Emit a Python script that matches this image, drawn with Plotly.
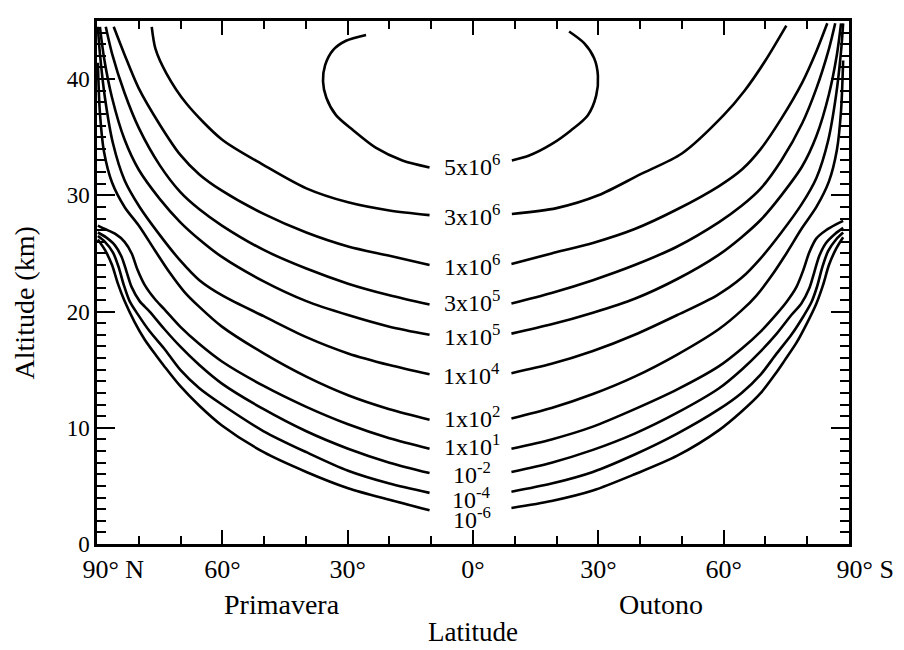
import plotly.graph_objects as go

# ---------------- data (latitude: negative = North, positive = South; altitude km) ----------------
contour_labels = ["5x10<sup>6</sup>", "3x10<sup>6</sup>", "1x10<sup>6</sup>", "3x10<sup>5</sup>",
                  "1x10<sup>5</sup>", "1x10<sup>4</sup>", "1x10<sup>2</sup>", "1x10<sup>1</sup>",
                  "10<sup>-2</sup>", "10<sup>-4</sup>", "10<sup>-6</sup>"]
label_alt = [32.6, 28.3, 24.0, 20.9, 18.0, 14.6, 10.9, 8.5, 6.1, 4.0, 2.2]
label_lat = -0.3

# 5x10^6 (closed loop, open at the top)
c5e6_left_lat = [-25.6, -30.4, -33.5, -35.4, -35.9, -35.1, -32.8, -28.7, -23.3, -16.9, -10.4]
c5e6_left_alt = [43.8, 43.3, 42.5, 41.2, 39.8, 38.4, 36.9, 35.6, 34.1, 33.0, 32.4]
c5e6_right_lat = [9.3, 13.3, 18.8, 23.5, 27.5, 29.5, 29.9, 29.0, 26.6, 23.0]
c5e6_right_alt = [33.0, 33.4, 34.4, 35.6, 36.9, 38.6, 40.3, 41.8, 43.1, 44.1]

# 3x10^6
c3e6_left_lat = [-76.9, -76.0, -73.4, -68.6, -60.1, -50.1, -39.9, -29.9, -20.0, -10.4]
c3e6_left_alt = [44.5, 42.6, 40.5, 37.9, 34.8, 32.6, 30.6, 29.4, 28.7, 28.3]
c3e6_right_lat = [9.3, 20.0, 30.0, 40.0, 50.0, 60.0, 65.0, 70.0, 75.0]
c3e6_right_alt = [28.4, 28.9, 30.0, 31.8, 33.6, 36.9, 39.0, 41.6, 44.6]

# 1x10^6
c1e6_left_lat = [-86.0, -83.4, -80.0, -75.0, -70.1, -65.5, -60.1, -50.1, -39.9, -29.9, -20.0, -10.4]
c1e6_left_alt = [44.5, 42.1, 39.2, 36.1, 33.5, 31.8, 30.4, 28.4, 26.8, 25.6, 24.8, 24.0]
c1e6_right_lat = [9.2, 18.8, 28.7, 38.7, 48.9, 58.9, 64.3, 68.9, 73.8, 78.8, 82.2, 84.8]
c1e6_right_alt = [24.1, 25.0, 25.9, 27.1, 28.8, 30.8, 32.2, 34.0, 36.6, 39.7, 42.4, 44.8]

# 3x10^5
c3e5_left_lat = [-87.9, -86.4, -83.4, -80.0, -75.0, -70.1, -65.5, -60.1, -50.1, -39.9, -29.9, -20.0, -10.4]
c3e5_left_alt = [44.5, 42.2, 38.8, 35.8, 32.6, 30.3, 28.8, 27.4, 25.3, 23.7, 22.4, 21.4, 20.6]
c3e5_right_lat = [9.2, 18.8, 28.7, 38.7, 48.9, 58.9, 64.3, 68.9, 73.8, 78.8, 82.2, 85.2, 86.7]
c3e5_right_alt = [20.7, 21.6, 22.7, 24.0, 25.6, 27.7, 29.1, 30.6, 33.0, 36.2, 39.2, 42.6, 44.8]

# 1x10^5
c1e5_left_lat = [-89.3, -88.3, -86.4, -83.4, -80.0, -75.0, -70.1, -65.5, -60.1, -50.1, -39.9, -29.9, -20.0, -10.4]
c1e5_left_alt = [44.5, 41.8, 38.4, 34.8, 32.2, 29.7, 27.7, 26.2, 24.7, 22.6, 20.9, 19.7, 18.7, 18.0]
c1e5_right_lat = [9.2, 18.8, 28.7, 38.7, 48.9, 58.9, 64.3, 68.9, 73.8, 78.8, 82.2, 85.2, 87.1, 88.1]
c1e5_right_alt = [18.1, 18.9, 19.9, 21.1, 22.8, 24.9, 26.4, 27.9, 30.0, 32.5, 35.1, 38.7, 42.1, 44.8]

# 1x10^4
c1e4_left_lat = [-89.8, -89.3, -88.1, -86.2, -83.4, -79.8, -75.0, -70.1, -65.5, -59.6, -50.1, -39.9, -29.9, -20.0, -10.4]
c1e4_left_alt = [44.5, 42.2, 38.4, 34.5, 31.3, 29.0, 26.6, 24.4, 22.7, 21.3, 19.6, 17.8, 16.4, 15.4, 14.6]
c1e4_right_lat = [9.2, 18.8, 28.7, 38.7, 48.9, 58.4, 64.3, 68.9, 73.8, 78.6, 82.2, 85.0, 86.9, 88.1, 88.6]
c1e4_right_alt = [14.7, 15.5, 16.6, 18.0, 19.7, 21.4, 22.9, 24.6, 26.8, 29.2, 31.5, 34.7, 38.6, 42.4, 44.8]

# 1x10^2
c1e2_left_lat = [-89.8, -89.3, -88.3, -86.4, -83.4, -79.8, -76.2, -72.7, -69.1, -65.5, -60.1, -50.1, -39.9, -29.9, -20.0, -10.4]
c1e2_left_alt = [41.4, 37.1, 33.7, 31.1, 29.0, 27.3, 25.3, 23.4, 21.7, 20.4, 18.7, 16.4, 14.4, 12.8, 11.6, 10.7]
c1e2_right_lat = [9.2, 18.8, 28.7, 38.7, 48.9, 58.9, 64.3, 67.9, 71.5, 75.0, 78.6, 82.2, 85.2, 87.1, 88.1, 88.6]
c1e2_right_alt = [10.8, 11.7, 12.9, 14.4, 16.3, 18.5, 20.1, 21.4, 23.1, 25.0, 27.1, 29.0, 31.2, 33.9, 37.3, 41.6]

# 1x10^1
c1e1_left_lat = [-89.8, -88.1, -85.7, -83.4, -81.7, -80.3, -78.6, -76.2, -73.9, -70.1, -65.5, -60.1, -50.1, -39.9, -29.9, -20.0, -10.4]
c1e1_left_alt = [27.4, 27.1, 26.7, 26.0, 25.0, 23.6, 22.3, 21.1, 20.2, 18.7, 17.2, 15.7, 13.6, 11.8, 10.3, 9.1, 8.2]
c1e1_right_lat = [9.2, 18.8, 28.7, 38.7, 48.9, 58.9, 64.3, 68.9, 72.7, 75.0, 77.4, 79.1, 80.5, 82.2, 84.5, 86.9, 88.6]
c1e1_right_alt = [8.2, 9.0, 10.1, 11.6, 13.3, 15.3, 16.8, 18.3, 19.8, 20.8, 22.1, 23.6, 25.1, 26.3, 27.0, 27.5, 27.8]

# 10^-2
cm2_left_lat = [-89.8, -87.9, -85.7, -84.1, -82.9, -81.7, -79.8, -77.4, -73.9, -70.1, -65.5, -60.1, -50.1, -39.9, -29.9, -20.0, -10.4]
cm2_left_alt = [26.8, 26.4, 25.7, 24.7, 23.4, 22.1, 20.9, 20.0, 18.5, 17.0, 15.4, 13.8, 11.6, 9.7, 8.2, 7.0, 6.1]
cm2_right_lat = [9.2, 18.8, 28.7, 38.7, 48.9, 58.9, 64.3, 68.9, 72.7, 76.2, 78.6, 80.5, 81.7, 82.9, 84.5, 86.7, 88.6]
cm2_right_alt = [6.2, 7.0, 8.1, 9.5, 11.3, 13.4, 15.0, 16.6, 18.1, 19.7, 20.7, 22.0, 23.4, 24.8, 25.9, 26.7, 27.2]

# 10^-4
cm4_left_lat = [-89.8, -88.1, -86.2, -84.8, -83.6, -82.2, -80.3, -77.4, -73.9, -70.1, -65.5, -60.1, -50.1, -39.9, -29.9, -20.0, -10.4]
cm4_left_alt = [26.5, 26.0, 25.1, 23.8, 22.3, 20.9, 19.8, 18.3, 16.8, 15.0, 13.4, 12.0, 9.7, 7.9, 6.3, 5.2, 4.4]
cm4_right_lat = [9.2, 18.8, 28.7, 38.7, 48.9, 58.9, 64.3, 68.9, 72.7, 76.2, 79.1, 81.0, 82.4, 83.6, 85.0, 86.9, 88.6]
cm4_right_alt = [4.5, 5.2, 6.2, 7.7, 9.5, 11.6, 13.0, 14.6, 16.4, 18.0, 19.6, 20.8, 22.2, 23.8, 25.2, 26.2, 26.8]

# 10^-6
cm6_left_lat = [-89.8, -88.1, -86.4, -85.0, -83.4, -81.0, -78.6, -75.8, -73.9, -70.1, -65.5, -60.1, -50.1, -39.9, -29.9, -20.0, -10.4]
cm6_left_alt = [26.2, 25.3, 24.0, 22.4, 20.9, 19.1, 17.6, 16.2, 15.3, 13.6, 11.9, 10.2, 7.9, 6.2, 4.8, 3.8, 2.9]
cm6_right_lat = [9.2, 18.8, 28.7, 38.7, 48.9, 58.9, 64.3, 68.9, 72.7, 74.6, 77.4, 79.8, 82.2, 83.8, 85.2, 86.9, 88.6]
cm6_right_alt = [3.1, 3.7, 4.6, 6.0, 7.6, 9.8, 11.4, 13.0, 14.8, 15.8, 17.3, 18.9, 20.7, 22.3, 24.0, 25.4, 26.4]

x_tickvals = [-90, -60, -30, 0, 30, 60, 90]
x_ticktext = ["\u00a0\u00a0\u00a0\u00a0\u00a090° N", "60°", "30°", "0°", "30°", "60°",
              "\u00a0\u00a0\u00a0\u00a0\u00a090° S"]
y_tickvals = [0, 10, 20, 30, 40]
season_text = ["Primavera", "Outono"]
season_lat = [-45.6, 45.1]

# ---------------- figure ----------------
SERIF = "Liberation Serif, Times New Roman, serif"
fig = go.Figure()

segments = [
    (c5e6_left_lat, c5e6_left_alt), (c5e6_right_lat, c5e6_right_alt),
    (c3e6_left_lat, c3e6_left_alt), (c3e6_right_lat, c3e6_right_alt),
    (c1e6_left_lat, c1e6_left_alt), (c1e6_right_lat, c1e6_right_alt),
    (c3e5_left_lat, c3e5_left_alt), (c3e5_right_lat, c3e5_right_alt),
    (c1e5_left_lat, c1e5_left_alt), (c1e5_right_lat, c1e5_right_alt),
    (c1e4_left_lat, c1e4_left_alt), (c1e4_right_lat, c1e4_right_alt),
    (c1e2_left_lat, c1e2_left_alt), (c1e2_right_lat, c1e2_right_alt),
    (c1e1_left_lat, c1e1_left_alt), (c1e1_right_lat, c1e1_right_alt),
    (cm2_left_lat, cm2_left_alt), (cm2_right_lat, cm2_right_alt),
    (cm4_left_lat, cm4_left_alt), (cm4_right_lat, cm4_right_alt),
    (cm6_left_lat, cm6_left_alt), (cm6_right_lat, cm6_right_alt),
]
for xs, ys in segments:
    fig.add_trace(go.Scatter(x=xs, y=ys, mode="lines",
                             line=dict(color="black", width=2.6, shape="spline", smoothing=0.8),
                             hoverinfo="skip", showlegend=False, cliponaxis=True))

for txt, alt in zip(contour_labels, label_alt):
    fig.add_annotation(x=label_lat, y=alt, text=txt, showarrow=False,
                       font=dict(family=SERIF, size=24, color="black"),
                       xanchor="center", yanchor="middle", borderpad=0)

for txt, lat in zip(season_text, season_lat):
    fig.add_annotation(x=lat, y=0, yref="y", text=txt, showarrow=False,
                       font=dict(family=SERIF, size=28, color="black"),
                       xanchor="center", yanchor="middle", yshift=-60)

fig.add_annotation(x=0, y=0, text="Latitude", showarrow=False,
                   font=dict(family=SERIF, size=27, color="black"),
                   xanchor="center", yanchor="middle", yshift=-88, borderpad=0)
fig.add_annotation(x=-90, y=20.7, text="Altitude (km)", showarrow=False, textangle=-90,
                   font=dict(family=SERIF, size=28, color="black"),
                   xanchor="center", yanchor="middle", xshift=-73)

axis_common = dict(showgrid=False, zeroline=False, showline=True, linecolor="black",
                   linewidth=2.5, mirror="ticks", ticks="inside", tickcolor="black",
                   tickwidth=1.8)

fig.update_xaxes(range=[-90, 90], tickvals=x_tickvals, ticktext=x_ticktext, ticklen=14,
                 tickfont=dict(family=SERIF, size=26, color="black"),
                 minor=dict(dtick=10, tick0=0, ticks="inside", ticklen=8, tickcolor="black",
                            tickwidth=1.5, showgrid=False),
                 **axis_common)
fig.update_yaxes(range=[0, 45], tickvals=y_tickvals, ticklen=18,
                 tickfont=dict(family=SERIF, size=23, color="black"),
                 minor=dict(dtick=1, tick0=0, ticks="inside", ticklen=9, tickcolor="black",
                            tickwidth=1.5, showgrid=False),
                 **axis_common)

# the page adds an 8 px body margin, so the figure is 8 px smaller and margins shifted
fig.update_layout(width=896, height=642, autosize=False,
                  margin=dict(l=89, r=49, t=10, b=106),
                  plot_bgcolor="white", paper_bgcolor="white")

fig.write_html("out.html")
